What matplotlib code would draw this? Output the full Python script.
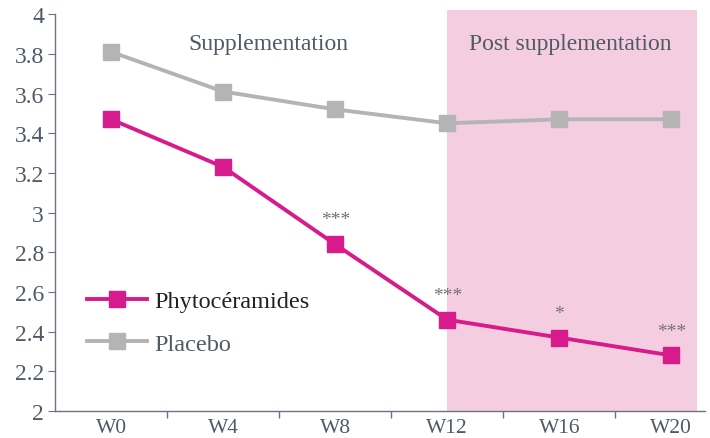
import matplotlib.pyplot as plt
from matplotlib.patches import Rectangle

weeks = ['W0', 'W4', 'W8', 'W12', 'W16', 'W20']
phyto = [3.47, 3.23, 2.84, 2.46, 2.37, 2.28]
placebo = [3.81, 3.61, 3.52, 3.45, 3.47, 3.47]
stars = ['', '', '***', '***', '*', '***']

magenta = '#d81b8c'
grey = '#b4b4b4'
text_col = '#4f5a66'

plt.rcParams['font.family'] = ['Liberation Serif', 'DejaVu Serif']

fig = plt.figure(figsize=(7.1, 4.39), dpi=100)
ax = fig.add_axes([0.0775, 0.0615, 0.9155, 0.904])

x = list(range(len(weeks)))
ax.set_xlim(-0.5, 5.3)
ax.set_ylim(2, 4)

# post supplementation background
ax.add_patch(Rectangle((3, 2), 2.23, 2.02, facecolor='#f5cde0', edgecolor='none',
                       clip_on=False, zorder=0))

ax.plot(x, placebo, color=grey, lw=2.8, marker='s', ms=11, label='Placebo', zorder=3)
ax.plot(x, phyto, color=magenta, lw=2.8, marker='s', ms=11, label='Phytocéramides', zorder=4)

for xi, yi, s in zip(x, phyto, stars):
    if s:
        ax.text(xi, yi + 0.08, s, ha='center', va='bottom', fontsize=14, color='#6d737a')

ax.text(1.4, 3.85, 'Supplementation', ha='center', va='center', fontsize=17, color=text_col)
ax.text(4.1, 3.85, 'Post supplementation', ha='center', va='center', fontsize=17, color=text_col)

ax.set_xticks(x)
ax.set_xticklabels(weeks)
ax.set_xticks([0.5, 1.5, 2.5, 3.5, 4.5], minor=True)
ax.tick_params(axis='x', which='major', length=0, pad=5, labelsize=15.5, labelcolor=text_col)
ax.tick_params(axis='x', which='minor', length=5, color='#6b7580', width=1)

yt = [2, 2.2, 2.4, 2.6, 2.8, 3, 3.2, 3.4, 3.6, 3.8, 4]
ax.set_yticks(yt)
ax.set_yticklabels([('%g' % v) for v in yt])
ax.tick_params(axis='y', length=5, color='#6b7580', labelsize=17, labelcolor=text_col, pad=3)

for s in ['top', 'right']:
    ax.spines[s].set_visible(False)
for s in ['left', 'bottom']:
    ax.spines[s].set_color('#6b7580')
    ax.spines[s].set_linewidth(1)

h, l = ax.get_legend_handles_labels()
leg = ax.legend(h[::-1], l[::-1], loc='upper left', bbox_to_anchor=(0.015, 0.36),
                frameon=False, fontsize=17.5, handlelength=2.5, labelspacing=0.85,
                handletextpad=0.3)
leg.get_texts()[0].set_color('#222222')
leg.get_texts()[1].set_color(text_col)

fig.savefig('out.png')
